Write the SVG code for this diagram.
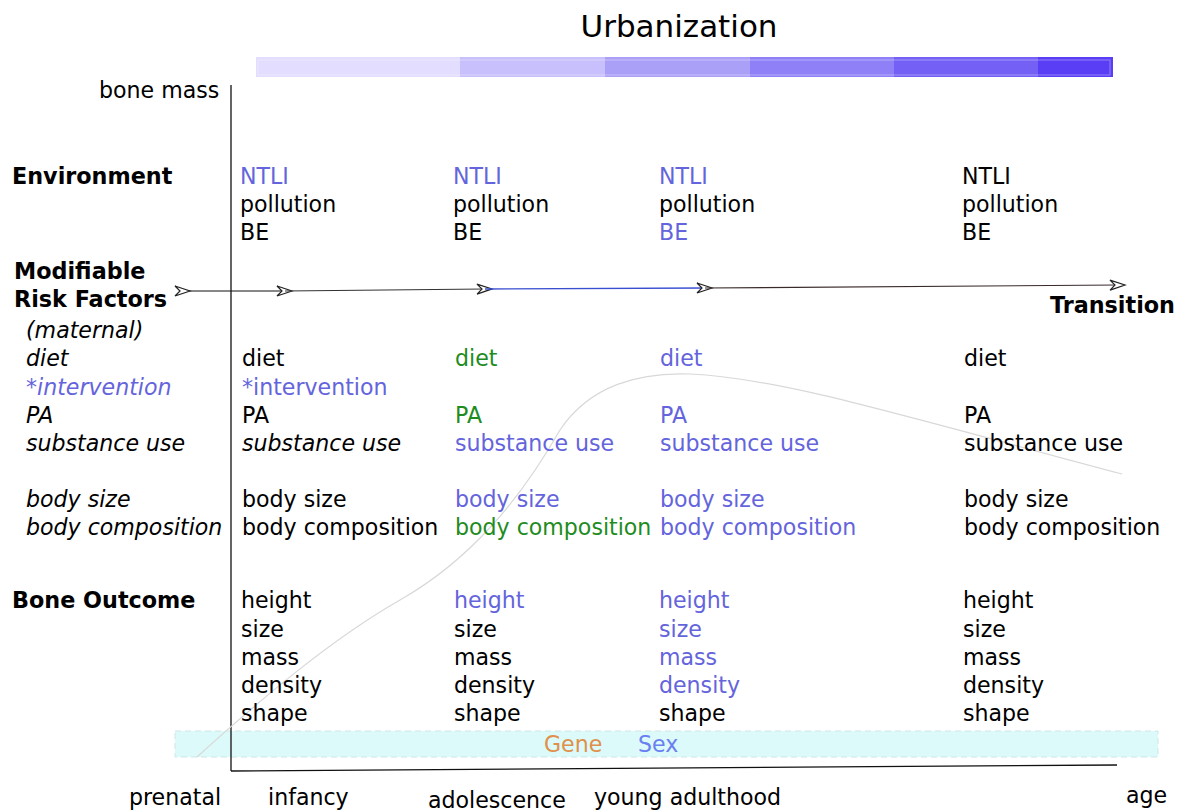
<svg xmlns="http://www.w3.org/2000/svg" width="1189" height="812" viewBox="0 0 1189 812">
<style>
text{font-family:"DejaVu Sans","Liberation Sans",sans-serif;font-size:22.1px;fill:#000}
.b{font-weight:bold;font-size:22.3px}
.i{font-style:italic}
.u{fill:#6464dc}
.g{fill:#1e8c1e}
</style>
<defs>
<marker id="ah" markerWidth="20" markerHeight="14" viewBox="-10 -7 20 14" refX="0" refY="0" orient="auto" markerUnits="userSpaceOnUse">
<path d="M-8,-5 L7,0 L-8,5 L-3,0 Z" fill="#fff" stroke="#222" stroke-width="1.2"/>
</marker>
</defs>
<rect width="1189" height="812" fill="#fff"/>
<g id="title"><text x="679" y="37" text-anchor="middle" style="font-size:31px">Urbanization</text></g>
<g id="urban-bar">
<rect x="256" y="57" width="857" height="20" fill="#e3deff"/>
<rect x="460" y="57" width="145" height="20" fill="#c8c0fc"/>
<rect x="605" y="57" width="145" height="20" fill="#aba0f8"/>
<rect x="750" y="57" width="144" height="20" fill="#8f80f8"/>
<rect x="894" y="57" width="144" height="20" fill="#7560f5"/>
<rect x="1038" y="57" width="75" height="20" fill="#5a3ef5"/>
<rect x="258" y="60" width="852" height="15" fill="none" stroke="#ffffff" stroke-opacity="0.35" stroke-width="1"/>
</g>
<g id="gene-sex">
<rect x="175" y="731" width="983" height="26" fill="#dcfafa" stroke="#cfe6e6" stroke-dasharray="6,4" stroke-width="1"/>
<text x="544" y="752" style="fill:#e0904a">Gene</text>
<text x="638" y="752" style="fill:#6a7ff0">Sex</text>
</g>
<g id="connectors">
<line x1="231" y1="85" x2="231" y2="771" stroke="#111" stroke-width="1.3"/>
<path d="M231,771 L1117,765" stroke="#111" stroke-width="1.3" fill="none"/>
<line x1="183" y1="291" x2="285" y2="291" stroke="#111" stroke-width="1.2" marker-start="url(#ah)" marker-end="url(#ah)"/>
<line x1="285" y1="291" x2="485" y2="289" stroke="#333" stroke-width="1.2" marker-end="url(#ah)"/>
<line x1="485" y1="289" x2="705" y2="288" stroke="#3a4fd0" stroke-width="1.3" marker-end="url(#ah)"/>
<line x1="705" y1="288" x2="1118" y2="285" stroke="#3a2a2a" stroke-width="1.2" marker-end="url(#ah)"/>
<path d="M197,757 C260,700 330,640 400,600 C470,560 520,500 560,430 C590,385 640,372 690,374 C780,378 900,415 1122,474" fill="none" stroke="#d8d8d8" stroke-width="1.2"/>
</g>
<g id="left-labels">
<text x="99" y="98">bone mass</text>
<text x="12" y="184" class="b">Environment</text>
<text x="14" y="279" class="b">Modifiable</text>
<text x="14" y="307" class="b">Risk Factors</text>
<text x="26" y="338" class="i">(maternal)</text>
<text x="26" y="366" class="i">diet</text>
<text x="26" y="395" class="i u">*intervention</text>
<text x="26" y="423" class="i">PA</text>
<text x="26" y="451" class="i">substance use</text>
<text x="26" y="507" class="i">body size</text>
<text x="26" y="535" class="i">body composition</text>
<text x="12" y="608" class="b">Bone Outcome</text>
</g>
<g id="col-infancy">
<text x="240" y="184" class="u">NTLI</text>
<text x="240" y="212">pollution</text>
<text x="240" y="240">BE</text>
<text x="242" y="366">diet</text>
<text x="242" y="395" class="u">*intervention</text>
<text x="242" y="423">PA</text>
<text x="242" y="451" class="i">substance use</text>
<text x="242" y="507">body size</text>
<text x="242" y="535">body composition</text>
<text x="241" y="608">height</text>
<text x="241" y="637">size</text>
<text x="241" y="665">mass</text>
<text x="241" y="693">density</text>
<text x="241" y="721">shape</text>
</g>
<g id="col-adolescence">
<text x="453" y="184" class="u">NTLI</text>
<text x="453" y="212">pollution</text>
<text x="453" y="240">BE</text>
<text x="455" y="366" class="g">diet</text>
<text x="455" y="423" class="g">PA</text>
<text x="455" y="451" class="u">substance use</text>
<text x="455" y="507" class="u">body size</text>
<text x="455" y="535" class="g">body composition</text>
<text x="454" y="608" class="u">height</text>
<text x="454" y="637">size</text>
<text x="454" y="665">mass</text>
<text x="454" y="693">density</text>
<text x="454" y="721">shape</text>
</g>
<g id="col-young-adulthood">
<text x="659" y="184" class="u">NTLI</text>
<text x="659" y="212">pollution</text>
<text x="659" y="240" class="u">BE</text>
<text x="660" y="366" class="u">diet</text>
<text x="660" y="423" class="u">PA</text>
<text x="660" y="451" class="u">substance use</text>
<text x="660" y="507" class="u">body size</text>
<text x="660" y="535" class="u">body composition</text>
<text x="659" y="608" class="u">height</text>
<text x="659" y="637" class="u">size</text>
<text x="659" y="665" class="u">mass</text>
<text x="659" y="693" class="u">density</text>
<text x="659" y="721">shape</text>
</g>
<g id="col-transition">
<text x="962" y="184">NTLI</text>
<text x="962" y="212">pollution</text>
<text x="962" y="240">BE</text>
<text x="964" y="366">diet</text>
<text x="964" y="423">PA</text>
<text x="964" y="451">substance use</text>
<text x="964" y="507">body size</text>
<text x="964" y="535">body composition</text>
<text x="963" y="608">height</text>
<text x="963" y="637">size</text>
<text x="963" y="665">mass</text>
<text x="963" y="693">density</text>
<text x="963" y="721">shape</text>
<text x="1175" y="313" class="b" text-anchor="end">Transition</text>
</g>
<g id="age-labels">
<text x="129" y="805">prenatal</text>
<text x="268" y="805">infancy</text>
<text x="428" y="808">adolescence</text>
<text x="594" y="805">young adulthood</text>
<text x="1126" y="803">age</text>
</g>
</svg>
